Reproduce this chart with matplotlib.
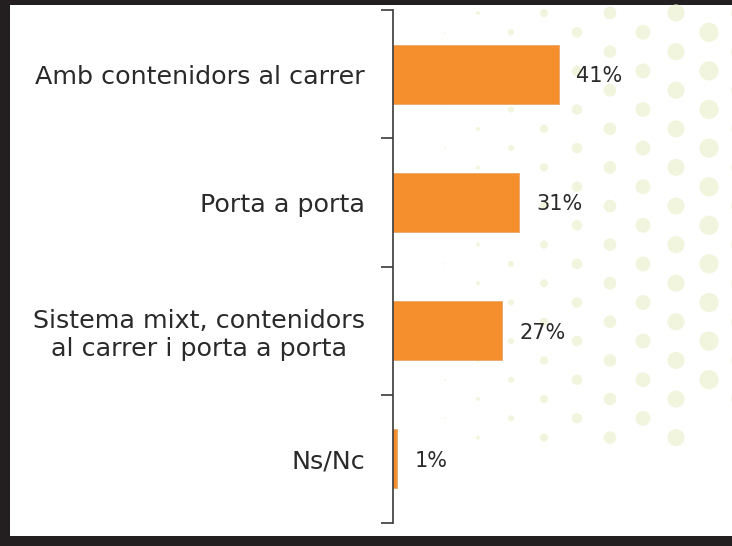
import numpy as np
import matplotlib.pyplot as plt
from matplotlib.patches import Rectangle

# Data
categories = ["Amb contenidors al carrer", "Porta a porta",
              "Sistema mixt, contenidors\nal carrer i porta a porta", "Ns/Nc"]
values = [41, 31, 27, 1]

# Style
BAR_COLOR = "#F58F2E"
TEXT_COLOR = "#2a2a2a"
DOT_COLOR = "#F2F5DE"
FRAME_COLOR = "#231F20"
W, H = 732, 546

plt.rcParams['font.family'] = ['DejaVu Sans']

fig = plt.figure(figsize=(W / 100, H / 100), dpi=100)
fig.patch.set_facecolor(FRAME_COLOR)

# background axes in pixel units: white panel + decorative halftone dots
bg = fig.add_axes([0, 0, 1, 1], zorder=0)
bg.set_xlim(0, W)
bg.set_ylim(H, 0)
bg.axis("off")
bg.add_patch(Rectangle((10, 5), W - 10, 531, facecolor="white",
                       edgecolor="none", zorder=0))
dx, dy = 66.0, 19.3
xs, ys, ss = [], [], []
for row in range(23):
    yy = 13 + row * dy
    off = 0 if row % 2 == 0 else -dx / 2
    for col in range(8):
        xx = 478 + off + col * dx
        if xx > W + 12 or yy > 440 or (xx > 690 and yy > 410):
            continue
        r = (xx - 420) / 30.0
        if r <= 0.5:
            continue
        xs.append(xx)
        ys.append(yy)
        ss.append((2 * r * 0.72) ** 2)
bg.scatter(xs, ys, s=ss, color=DOT_COLOR, linewidths=0, zorder=1)

ax = fig.add_axes([393 / W, 23 / H, 1 - 393 / W, (523 - 10) / H], zorder=1)
ax.patch.set_alpha(0)

ypos = np.arange(len(categories))
ax.barh(ypos, values, height=0.46, color=BAR_COLOR, edgecolor="#E8A76A",
        linewidth=0.6)

for y, v in zip(ypos, values):
    ax.annotate(f"{v}%", (v, y), xytext=(12.5, -1.5), textcoords="offset points",
                ha="left", va="center", fontsize=15, color=TEXT_COLOR)

ax.set_xlim(0, 83.7)
ax.set_ylim(len(categories) - 0.5, -0.5)
ax.set_yticks(ypos)
ax.set_yticklabels(categories, fontsize=18.3, color=TEXT_COLOR,
                   multialignment="center")
ax.tick_params(axis="y", which="major", length=0, pad=20)
ax.set_yticks(np.arange(-0.5, len(categories)), minor=True)
ax.tick_params(axis="y", which="minor", length=9, width=1.2,
               color="#3a3a3a", direction="out")
ax.set_xticks([])

for side in ["top", "right", "bottom"]:
    ax.spines[side].set_visible(False)
ax.spines["left"].set_color("#3a3a3a")
ax.spines["left"].set_linewidth(1.2)

fig.savefig("out.png", dpi=100, facecolor=fig.get_facecolor())
